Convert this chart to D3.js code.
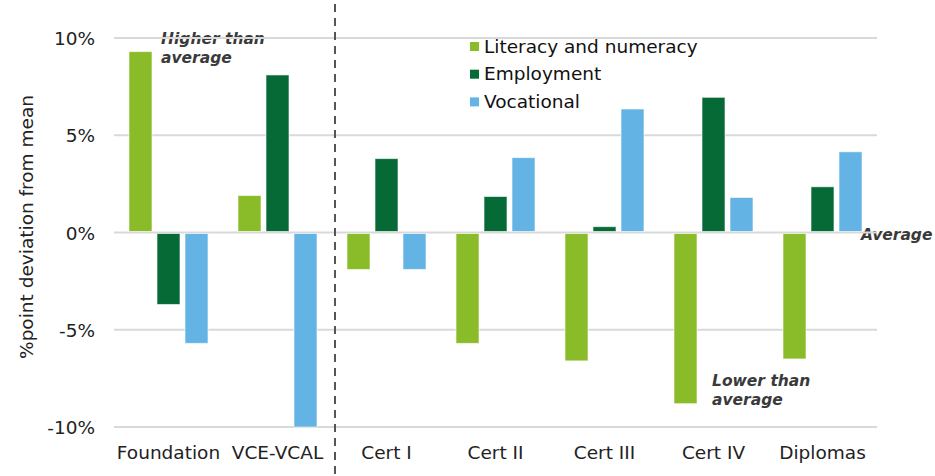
<!DOCTYPE html>
<html>
<head>
<meta charset="utf-8">
<script src="https://cdn.jsdelivr.net/npm/d3@7"></script>
<style>
  body { margin: 0; background: #fff; }
  text { font-family: "DejaVu Sans", Verdana, sans-serif; }
</style>
</head>
<body>
<div id="chart"></div>
<script>
// chart data
const categories = ["Foundation", "VCE-VCAL", "Cert I", "Cert II", "Cert III", "Cert IV", "Diplomas"]
const seriesNames = ["Literacy and numeracy", "Employment", "Vocational"]
const literacy = [9.3, 1.9, -1.9, -5.7, -6.6, -8.8, -6.5]
const employment = [-3.7, 8.1, 3.8, 1.85, 0.3, 6.95, 2.35]
const vocational = [-5.7, -10.0, -1.9, 3.85, 6.35, 1.8, 4.15]
const yTicks = [-10, -5, 0, 5, 10]

const colors = ["#8abb28", "#066a37", "#63b4e5"]
const W = 935, H = 476
const margin = { left: 114, right: 58, top: 38, bottom: 49 }
const fontSize = "18.5px"

let series = [literacy, employment, vocational]

let svg = d3.select("#chart").append("svg")
    .attr("width", W).attr("height", H)

let x = d3.scaleBand().domain(categories)
    .range([margin.left, W - margin.right]).paddingInner(0).paddingOuter(0)
let y = d3.scaleLinear().domain([-10, 10]).range([H - margin.bottom, margin.top])

let barW = 23, barStep = 28

// annotations (drawn first so the grid runs over them like the original)
function note(lines, px, py) {
    let t = svg.append("text")
        .style("font-size", "15.5px").style("font-weight", "bold")
        .style("font-style", "italic").style("fill", "#3a3a3a")
    lines.forEach((l, i) => {
        t.append("tspan").attr("x", px).attr("y", py + i * 18.7).text(l)
    })
}
note(["Higher than", "average"], 161, 44)
note(["Lower than", "average"], 712, 386)
note(["Average"], 861, 240)

// grid lines
svg.append("g").selectAll("line").data(yTicks).enter()
    .append("line")
    .attr("x1", margin.left).attr("x2", W - margin.right)
    .attr("y1", d => y(d)).attr("y2", d => y(d))
    .style("stroke", "#d9d9d9").style("stroke-width", 2)

// y tick labels
svg.append("g").selectAll("text").data(yTicks).enter()
    .append("text")
    .attr("x", 95).attr("y", d => y(d) + 7)
    .attr("text-anchor", "end")
    .style("font-size", fontSize).style("fill", "#222")
    .text(d => d + "%")

// y title
svg.append("text")
    .attr("transform", "translate(33,227) rotate(-90)")
    .attr("text-anchor", "middle")
    .style("font-size", fontSize).style("fill", "#222")
    .text("%point deviation from mean")

// bars
for (let s = 0; s < series.length; s++) {
    svg.append("g").selectAll("rect").data(series[s]).enter()
        .append("rect")
        .attr("x", (d, i) => x(categories[i]) + x.bandwidth() / 2 - barStep - barW / 2 + s * barStep)
        .attr("width", barW)
        .attr("y", d => d >= 0 ? y(d) : y(0) + 1)
        .attr("height", d => Math.abs(y(d) - y(0)) - 1)
        .style("fill", colors[s])
        .style("stroke", "rgba(255,255,255,0.6)").style("stroke-width", 1)
}

// x labels
svg.append("g").selectAll("text").data(categories).enter()
    .append("text")
    .attr("x", d => x(d) + x.bandwidth() / 2)
    .attr("y", 459)
    .attr("text-anchor", "middle")
    .style("font-size", fontSize).style("fill", "#222")
    .text(d => d)

// divider between school and VET
let divX = x(categories[2]) + 3
svg.append("line")
    .attr("x1", divX).attr("x2", divX)
    .attr("y1", 4).attr("y2", H)
    .style("stroke", "#555").style("stroke-width", 2)
    .style("stroke-dasharray", "8,6")

// legend
let legend = svg.append("g")
seriesNames.forEach((name, i) => {
    legend.append("rect")
        .attr("x", 470).attr("y", 42 + i * 27.7)
        .attr("width", 9).attr("height", 9)
        .style("fill", colors[i])
    legend.append("text")
        .attr("x", 484).attr("y", 52.5 + i * 27.7)
        .style("font-size", fontSize).style("fill", "#111")
        .text(name)
})
</script>
</body>
</html>
